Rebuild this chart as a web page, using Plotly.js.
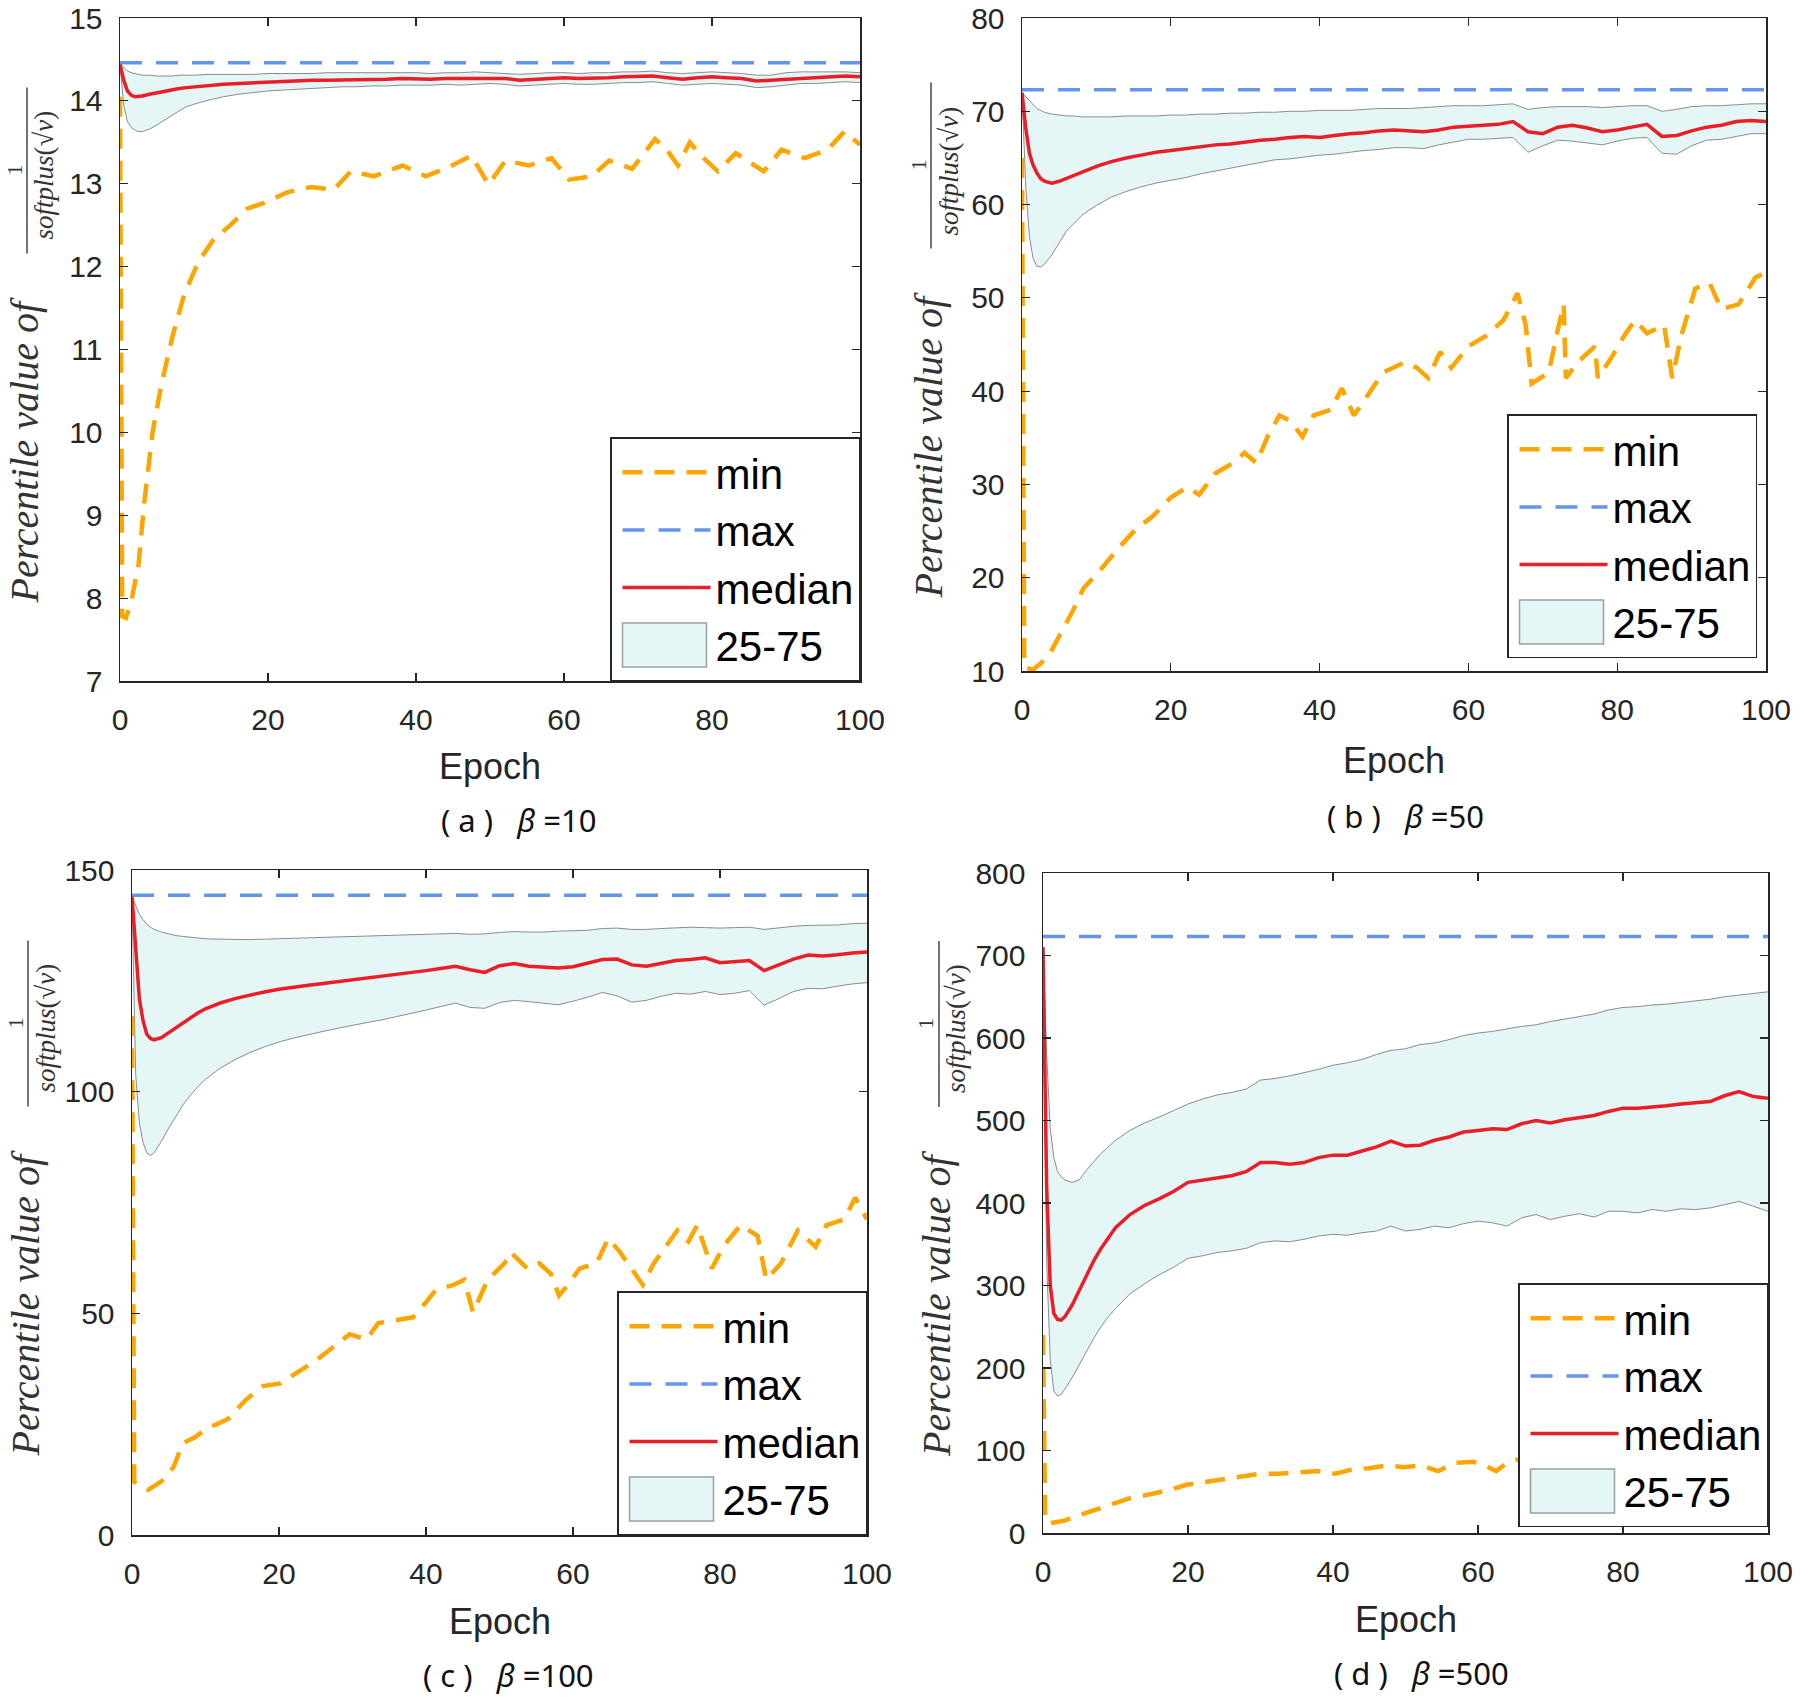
<!DOCTYPE html>
<html><head><meta charset="utf-8">
<script src="https://cdn.plot.ly/plotly-3.0.1.min.js"></script>
<style>body{margin:0;background:#fff}#chart{width:1800px;height:1698px}</style>
</head><body><div id="chart"></div>
<script>
// ---------- DATA ----------
const epochs = [0,0.5,1,1.5,2,2.5,3,4,5,6,7,8,9,10,12,14,16,18,20,22,24,26,28,30,32,34,36,38,40,42,44,46,48,50,52,54,56,58,60,62,64,66,68,70,72,74,76,78,80,82,84,86,88,90,92,94,96,98,100];
const maxEpochs = [0,100];

// (a) beta = 10
const q75A = [14.45,14.40,14.36,14.34,14.33,14.32,14.31,14.31,14.30,14.30,14.30,14.31,14.31,14.31,14.32,14.32,14.32,14.32,14.33,14.33,14.33,14.33,14.34,14.34,14.34,14.34,14.34,14.34,14.34,14.33,14.34,14.34,14.35,14.34,14.33,14.32,14.33,14.34,14.34,14.33,14.34,14.34,14.35,14.35,14.36,14.34,14.33,14.34,14.35,14.34,14.33,14.31,14.31,14.34,14.35,14.35,14.35,14.35,14.34];
const medA = [14.44,14.25,14.12,14.07,14.05,14.05,14.06,14.08,14.10,14.12,14.14,14.15,14.16,14.17,14.19,14.20,14.21,14.22,14.23,14.23,14.24,14.25,14.25,14.25,14.26,14.26,14.26,14.27,14.26,14.26,14.27,14.27,14.28,14.28,14.27,14.25,14.26,14.27,14.28,14.27,14.27,14.28,14.29,14.29,14.30,14.28,14.26,14.28,14.29,14.28,14.27,14.24,14.25,14.27,14.28,14.28,14.29,14.30,14.29];
const q25A = [14.44,13.95,13.75,13.68,13.65,13.63,13.63,13.66,13.71,13.77,13.83,13.88,13.93,13.96,14.01,14.05,14.08,14.10,14.12,14.13,14.14,14.15,14.16,14.17,14.17,14.18,14.18,14.19,14.19,14.19,14.20,14.19,14.20,14.21,14.20,14.18,14.19,14.20,14.21,14.20,14.20,14.21,14.22,14.22,14.23,14.21,14.19,14.20,14.21,14.20,14.19,14.16,14.17,14.19,14.21,14.21,14.22,14.23,14.22];
const maxA = [14.46,14.46];
const minEpochA = [0,0.3,0.8,1.5,2.5,3.3,4.4,5.6,7.1,8.7,10.6,12.6,14.9,17.2,19.5,22.7,25.8,28.9,31.2,34.3,38.2,41.3,44.4,47.5,49.8,52.1,55.2,58.3,60.7,63.8,66.1,69.2,72.3,73.9,75.4,77.0,78.5,80.8,83.2,87.0,89.4,92.5,95.6,97.9,100];
const minA = [14.05,7.78,7.76,7.95,8.4,9.17,10.0,10.58,11.16,11.67,12.06,12.32,12.5,12.7,12.77,12.9,12.96,12.93,13.15,13.09,13.22,13.09,13.2,13.34,12.99,13.28,13.22,13.31,13.05,13.09,13.28,13.18,13.54,13.41,13.22,13.5,13.34,13.15,13.37,13.15,13.41,13.31,13.41,13.63,13.47];

// (b) beta = 50
const q75B = [72.0,71.6,71.2,70.7,70.3,70.1,69.9,69.7,69.6,69.5,69.5,69.4,69.4,69.4,69.4,69.5,69.5,69.5,69.6,69.6,69.7,69.7,69.8,69.8,69.9,69.9,70.0,70.0,70.1,70.1,70.1,70.2,70.3,70.3,70.3,70.4,70.5,70.6,70.6,70.6,70.7,70.8,70.2,70.4,70.5,70.5,70.5,70.4,70.5,70.6,70.6,70.0,70.2,70.5,70.6,70.6,70.7,70.8,70.8];
const medB = [72.0,68.2,65.5,64.2,63.4,62.8,62.5,62.3,62.5,62.8,63.1,63.5,63.8,64.1,64.6,65.0,65.3,65.6,65.8,66.0,66.2,66.4,66.5,66.7,66.9,67.0,67.2,67.3,67.2,67.4,67.6,67.7,67.9,68.0,67.9,67.8,68.0,68.3,68.4,68.5,68.6,68.9,67.8,67.6,68.3,68.5,68.2,67.8,68.0,68.3,68.6,67.3,67.4,67.9,68.3,68.5,68.9,69.0,68.9];
const q25B = [72.0,62.0,56.5,54.2,53.4,53.3,53.6,54.6,55.9,57.2,58.0,58.8,59.4,59.9,60.8,61.4,61.9,62.3,62.6,62.9,63.3,63.6,63.9,64.2,64.5,64.8,64.9,65.1,65.3,65.4,65.6,65.8,65.9,66.1,66.1,66.0,66.4,66.7,67.0,67.0,67.1,67.2,65.6,66.3,66.9,66.8,66.6,66.4,66.8,67.1,67.2,65.5,65.4,66.3,66.9,67.0,67.3,67.6,67.6];
const maxB = [72.3,72.3];
const minEpochB = [0,0.3,1.4,2.5,3.7,5.2,6.8,8.3,10.6,13.0,15.3,17.6,20.0,22.2,23.8,26.0,28.4,29.9,31.5,33.0,34.6,36.1,37.7,39.2,41.5,43.0,44.6,46.1,48.5,51.5,53.1,54.6,56.2,57.7,60.0,62.3,64.7,66.6,67.7,68.5,70.8,72.0,72.8,73.1,74.7,77.0,77.4,79.3,80.9,82.4,84.0,86.3,87.4,88.6,90.5,92.4,94.0,96.3,98.6,100];
const minB = [65.0,10.5,10.1,10.8,11.8,14.0,16.4,18.9,20.9,23.2,25.2,26.6,28.6,29.7,28.9,31.2,32.3,33.4,32.3,35.1,37.4,36.8,35.1,37.4,38.0,40.3,37.4,39.1,42.0,43.1,42.5,41.4,44.2,42.5,44.8,45.9,47.6,50.5,47.1,40.8,42.0,46.5,49.3,41.4,43.1,44.8,41.4,43.7,45.9,47.6,46.2,47.1,41.4,45.9,51.0,51.6,48.8,49.3,52.2,52.7];

// (c) beta = 100
const q75C = [144,142,140,138.8,137.8,137.1,136.6,136.0,135.6,135.2,135.0,134.8,134.6,134.5,134.4,134.3,134.3,134.4,134.5,134.6,134.7,134.8,134.8,134.9,135.0,135.1,135.2,135.3,135.4,135.6,135.7,135.5,135.6,135.9,136.1,136.0,136.0,136.2,136.3,136.4,136.8,136.9,136.6,136.6,136.8,137.0,137.1,137.0,136.9,137.0,137.1,136.6,137.0,137.3,137.5,137.5,137.6,137.9,138.0];
const medC = [144,131,121,116,113,112,111.7,112.2,113.3,114.5,115.7,116.8,117.8,118.7,120.0,121.0,121.8,122.5,123.1,123.6,124.0,124.4,124.8,125.2,125.6,126.0,126.4,126.8,127.3,127.8,128.3,127.5,126.9,128.4,128.9,128.3,128.1,127.9,128.2,128.9,129.8,129.9,128.6,128.3,129.0,129.6,129.8,130.2,129.1,129.4,129.6,127.3,128.6,129.9,130.8,130.6,130.9,131.3,131.5];
const q25C = [144,104,93,88.5,86.2,85.6,86.2,88.8,91.8,94.6,97.2,99.3,101.2,102.8,105.3,107.2,108.8,110.1,111.2,112.1,112.9,113.6,114.3,115.0,115.6,116.2,116.9,117.7,118.4,119.2,120.0,119.0,118.8,120.1,120.6,120.3,119.9,119.6,120.4,121.3,122.4,121.6,120.2,120.6,121.5,122.2,122.0,122.6,121.9,122.2,122.8,119.5,121.0,122.6,123.3,123.2,123.8,124.3,124.6];
const maxC = [144.3,144.3];
const minEpochC = [0,0.3,1.4,2.2,3.2,4.5,5.7,6.9,8.5,10.0,13.1,15.5,17.8,20.2,22.5,24.9,27.2,29.6,31.9,33.5,35.8,38.2,40.1,41.3,43.7,45.2,46.4,48.4,50.7,51.5,53.8,55.4,57.0,58.1,59.3,60.9,63.2,64.8,66.4,67.9,69.5,71.0,72.6,74.2,75.7,76.9,78.9,80.4,82.8,85.1,86.3,88.3,90.6,93.0,94.5,96.9,98.4,100];
const minC = [117,12,10.8,10.2,11.2,12.7,15.5,20.7,22.0,23.8,26.2,30.5,33.6,34.2,36.7,39.2,42.2,45.3,44.1,47.8,48.4,49.1,52.7,55.2,56.4,57.6,50.2,57.6,61.3,63.8,60.1,61.3,58.9,54.0,56.4,60.1,61.3,66.9,63.8,60.1,56.4,61.3,65.0,68.7,66.2,69.9,60.1,65.0,69.9,67.5,57.6,61.3,68.7,65.0,69.9,71.2,76.1,71.2];

// (d) beta = 500
const q75D = [710,580,490,455,438,432,428,425,428,440,450,460,468,476,488,497,504,512,520,526,531,534,538,549,551,554,558,562,567,570,574,580,585,587,592,594,598,603,606,608,611,614,616,620,623,626,629,634,637,638,640,641,643,645,647,650,652,654,656];
const medD = [710,420,300,266,259,258,262,276,294,313,330,345,358,370,386,397,405,414,425,428,431,433,438,449,449,447,449,455,458,458,463,468,475,469,470,476,480,486,488,490,489,496,500,497,501,503,506,511,515,515,516,518,520,522,523,530,535,529,527];
const q25D = [710,330,210,172,166,168,174,188,204,220,236,250,262,272,290,302,313,322,333,336,340,342,345,352,354,353,356,360,362,361,364,366,372,366,368,372,370,375,378,376,372,382,386,380,384,387,383,390,390,388,392,390,393,392,394,398,402,396,390];
const maxD = [723,723];
const minEpochD = [0,0.3,1.0,2.0,3.0,4.0,5.5,7.1,9.5,11.9,13.8,15.8,17.8,19.8,22.1,24.5,27.7,30.0,32.4,35.6,37.9,40.3,42.7,45.0,47.4,49.8,52.2,54.5,56.9,59.3,60.9,62.5,64.0,65.2,68,70,73,76,80,84,88,92,95,98,100];
const minD = [240,15,12,13,15,18.6,23,28.6,36,41.9,45,48.5,53,58.5,61.8,65.2,68.5,71.8,71.8,73.1,75.1,71.8,77.1,78.5,81.8,79.8,81.8,75.1,85.1,86.4,81.8,75.1,85.1,88.4,90,92,88,93,95,92,96,94,90,82,67];

const seriesNames = ['min','max','median','25-75'];
const captions = ['(\u00a0a\u00a0)\u00a0\u00a0\u00a0<i>β</i>\u00a0=10','(\u00a0b\u00a0)\u00a0\u00a0\u00a0<i>β</i>\u00a0=50','(\u00a0c\u00a0)\u00a0\u00a0\u00a0<i>β</i>\u00a0=100','(\u00a0d\u00a0)\u00a0\u00a0\u00a0<i>β</i>\u00a0=500'];
const xTitle = 'Epoch';

// ---------- LAYOUT GEOMETRY (pixels) ----------
const W = 1800, H = 1698;
const PX = p => p / W, PY = p => 1 - p / H;
const panels = [
  {sfx:'',  box:[120,860,18,681],   yr:[7,15],  dt:1,   leg:[860,681],   ytx:24,  cap:[518,820],  ep:766,
   q25:q25A, med:medA, q75:q75A, mx:maxA, mnx:minEpochA, mn:minA},
  {sfx:'2', box:[1022,1766,18,671], yr:[10,80], dt:10,  leg:[1757,658],  ytx:928, cap:[1405,816], ep:760,
   q25:q25B, med:medB, q75:q75B, mx:maxB, mnx:minEpochB, mn:minB},
  {sfx:'3', box:[132,867,870,1535], yr:[0,150], dt:50,  leg:[867,1535],  ytx:25,  cap:[508,1675], ep:1621,
   q25:q25C, med:medC, q75:q75C, mx:maxC, mnx:minEpochC, mn:minC},
  {sfx:'4', box:[1043,1768,873,1533], yr:[0,800], dt:100, leg:[1768,1527], ytx:936, cap:[1421,1673], ep:1619,
   q25:q25D, med:medD, q75:q75D, mx:maxD, mnx:minEpochD, mn:minD}
];

const SANS = 'Liberation Sans, Arial, sans-serif';
const SERIF = 'Liberation Serif, Times New Roman, serif';
const AX = '#262626';
const ORANGE = 'rgb(255,165,0)', BLUE = 'rgb(100,149,237)', RED = 'rgb(235,30,40)';
const GRAY = 'rgb(140,140,140)', CYAN = 'rgb(228,246,246)';

const data = [];
const layout = {width:W, height:H, margin:{l:0,r:0,t:0,b:0}, paper_bgcolor:'#fff', plot_bgcolor:'#fff',
  showlegend:true, annotations:[], shapes:[]};

panels.forEach((p,i) => {
  const xa = 'x'+p.sfx, ya = 'y'+p.sfx;
  const lg = i === 0 ? 'legend' : 'legend'+(i+1);
  data.push({x:epochs, y:p.q25, xaxis:xa, yaxis:ya, mode:'lines', line:{color:GRAY,width:1},
    showlegend:false, legend:lg, legendgroup:'band'+i, hoverinfo:'skip'});
  data.push({x:epochs, y:p.q75, xaxis:xa, yaxis:ya, mode:'lines', fill:'tonexty', fillcolor:CYAN,
    line:{color:GRAY,width:1}, name:seriesNames[3], legend:lg, legendgroup:'band'+i, legendrank:4});
  data.push({x:p.mnx, y:p.mn, xaxis:xa, yaxis:ya, mode:'lines', line:{color:ORANGE,width:4.5,dash:'20px,12px'},
    name:seriesNames[0], legend:lg, legendgroup:'min'+i, legendrank:1});
  data.push({x:maxEpochs, y:p.mx, xaxis:xa, yaxis:ya, mode:'lines', line:{color:BLUE,width:3.5,dash:'22px,14px'},
    name:seriesNames[1], legend:lg, legendgroup:'max'+i, legendrank:2});
  data.push({x:epochs, y:p.med, xaxis:xa, yaxis:ya, mode:'lines', line:{color:RED,width:3.5},
    name:seriesNames[2], legend:lg, legendgroup:'med'+i, legendrank:3});

  const [l,r,t,b] = p.box;
  const common = {showgrid:false, zeroline:false, showline:true, linecolor:AX, linewidth:1.5, mirror:'ticks',
    ticks:'inside', ticklen:8, tickwidth:1.2, tickcolor:AX, ticklabeloverflow:'allow',
    tickfont:{family:SANS,size:30,color:AX}};
  layout['xaxis'+p.sfx] = Object.assign({}, common, {domain:[PX(l),PX(r)], anchor:ya, range:[0,100], dtick:20,
    tick0:0, ticklabelstandoff:11});
  layout['yaxis'+p.sfx] = Object.assign({}, common, {domain:[PY(b),PY(t)], anchor:xa, range:p.yr, dtick:p.dt,
    tick0:0, ticklabelstandoff:10});
  layout[lg] = {x:PX(p.leg[0]), y:PY(p.leg[1]), xanchor:'right', yanchor:'bottom', xref:'paper', yref:'paper',
    bgcolor:'#fff', bordercolor:AX, borderwidth:1.5, font:{family:SANS,size:42,color:'#000'},
    itemwidth:88, indentation:6, tracegroupgap:0, traceorder:'grouped'};

  const C = (t+b)/2;
  layout.annotations.push({xref:'paper', yref:'paper', x:PX((l+r)/2), y:PY(p.ep), text:xTitle, showarrow:false,
    xanchor:'center', yanchor:'middle', font:{family:SANS,size:36,color:AX}});
  layout.annotations.push({xref:'paper', yref:'paper', x:PX(p.cap[0]), y:PY(p.cap[1]), text:captions[i], showarrow:false,
    xanchor:'center', yanchor:'middle', font:{family:'Noto Sans, sans-serif',size:31,color:'#111'}});
  layout.annotations.push({xref:'paper', yref:'paper', x:PX(p.ytx), y:PY(C+101), text:'<i>Percentile value of</i>',
    textangle:-90, showarrow:false, xanchor:'center', yanchor:'middle', font:{family:SERIF,size:40,color:'#333'}});
  layout.annotations.push({xref:'paper', yref:'paper', x:PX(p.ytx-10), y:PY(C-179), text:'1',
    textangle:-90, showarrow:false, xanchor:'center', yanchor:'middle', font:{family:SERIF,size:22,color:'#333'}});
  layout.annotations.push({xref:'paper', yref:'paper', x:PX(p.ytx+20), y:PY(C-174), text:'<i>softplus</i>(√<i>v</i>)',
    textangle:-90, showarrow:false, xanchor:'center', yanchor:'middle', font:{family:SERIF,size:27,color:'#333'}});
  layout.shapes.push({type:'line', xref:'paper', yref:'paper', x0:PX(p.ytx+3), x1:PX(p.ytx+3), y0:PY(C-262), y1:PY(C-96),
    line:{color:'#444',width:1.5}});
});

Plotly.newPlot('chart', data, layout, {displayModeBar:false, staticPlot:true}).then(gd => {
  // render the band's legend swatch as a filled box (like the reference legend)
  gd.querySelectorAll('g.traces').forEach(tr => {
    const fill = tr.querySelector('.legendfill path');
    if (!fill) return;
    const box = 'M5,-22h84v44h-84z';
    fill.setAttribute('d', box);
    const ln = tr.querySelector('.legendlines path');
    if (ln) { ln.setAttribute('d', box); ln.style.fill = 'none'; ln.style.stroke = 'rgb(150,160,160)'; ln.style.strokeWidth = '1.5px'; }
  });
});
</script></body></html>
